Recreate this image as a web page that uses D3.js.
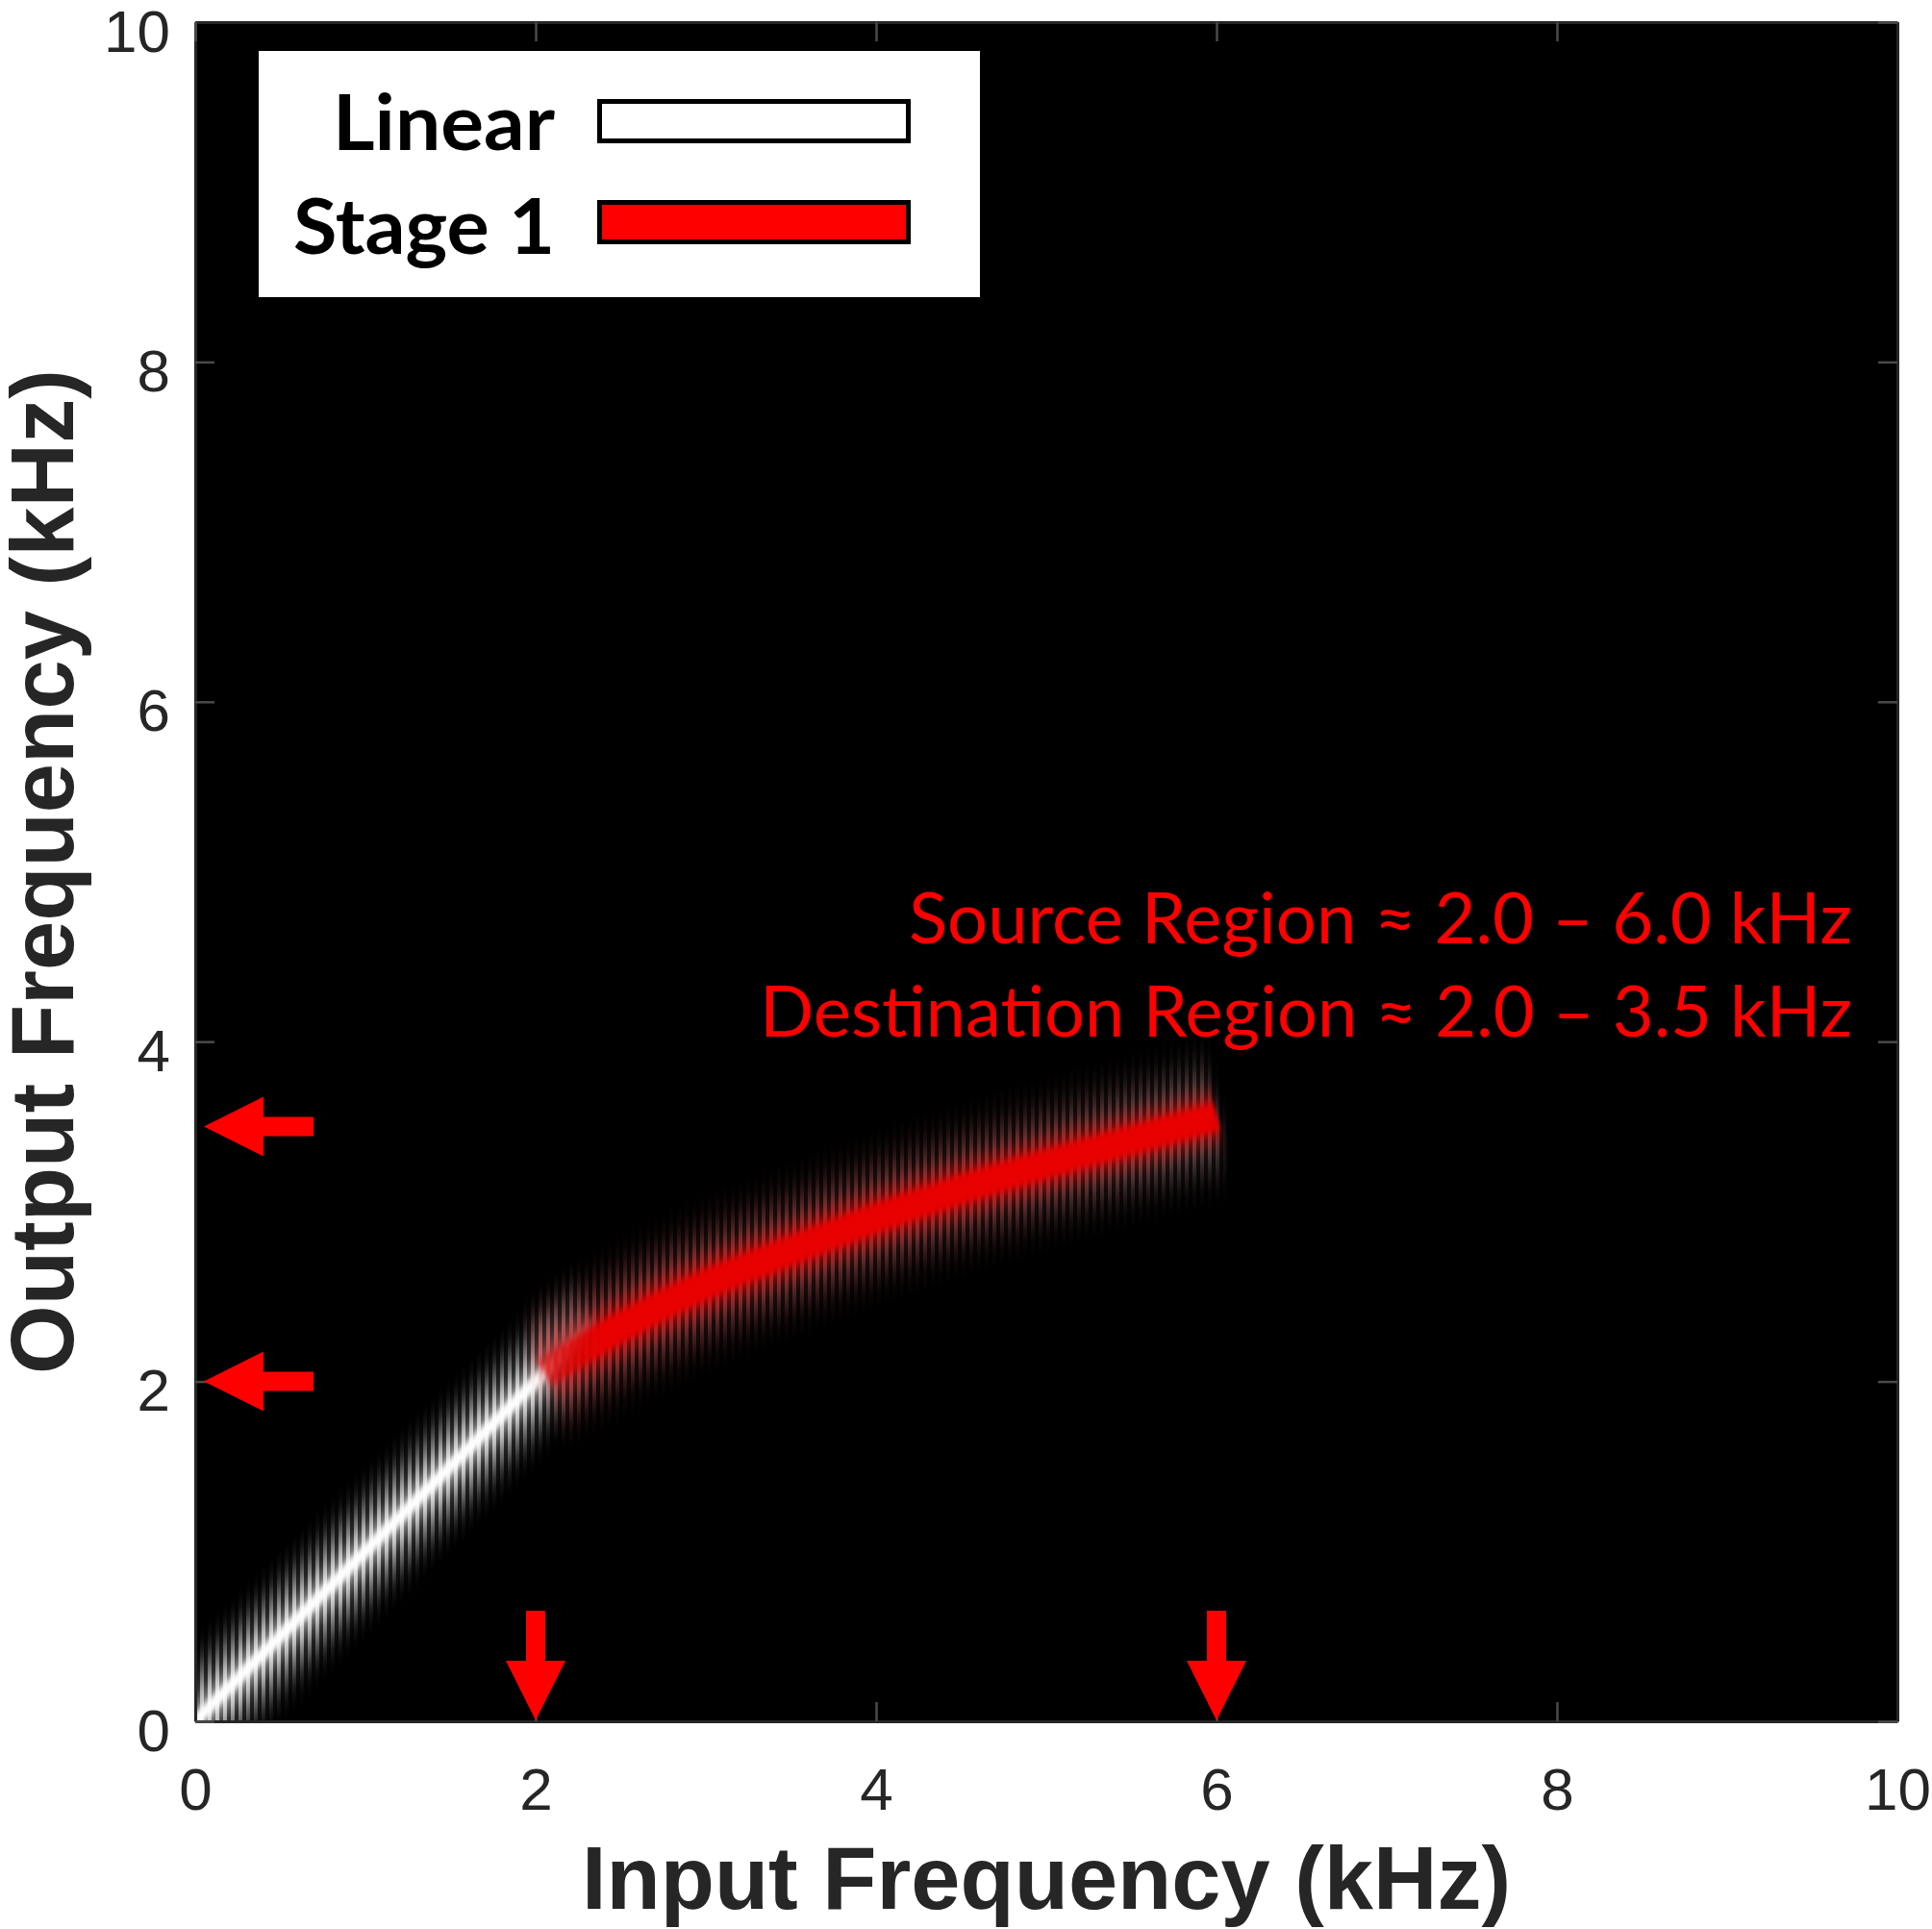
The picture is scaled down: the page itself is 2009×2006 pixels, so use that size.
<!DOCTYPE html>
<html>
<head>
<meta charset="utf-8">
<script src="https://cdn.jsdelivr.net/npm/d3@7"></script>
<style>
  body { margin: 0; background: #fff; }
  svg { display: block; }
</style>
</head>
<body>
<div id="chart"></div>
<script>
// values (kHz)
const xTicks = [0, 2, 4, 6, 8, 10];
const yTicks = [0, 2, 4, 6, 8, 10];
const linearInput = [0, 1, 2, 2.35];
const linearOutput = [0, 1, 2, 2.35];
const stage1Input = [2.05, 2.5, 3.0, 3.5, 4.0, 4.5, 5.0, 5.5, 6.0];
const stage1Output = [2.05, 2.32, 2.57, 2.77, 2.96, 3.13, 3.28, 3.42, 3.56];
const sourceMarks = [2, 6];
const destinationMarks = [2, 3.5];
const legendLabels = ["Linear", "Stage 1"];
const notes = ["Source Region \u2248 2.0 \u2013 6.0 kHz", "Destination Region \u2248 2.0 \u2013 3.5 kHz"];
const xTitle = "Input Frequency (kHz)";
const yTitle = "Output Frequency (kHz)";

const width = 2009, height = 2006;
const plot = { left: 203, top: 23, right: 1973, bottom: 1790 };
const axisColor = "#262626";
const red = "#ff0000";

const x = d3.scaleLinear().domain([0, 10]).range([plot.left, plot.right]);
const y = d3.scaleLinear().domain([0, 10]).range([plot.bottom, plot.top]);

const svg = d3.select("#chart").append("svg")
  .attr("width", width)
  .attr("height", height);

svg.append("rect").attr("width", width).attr("height", height).attr("fill", "#fff");

const defs = svg.append("defs");

defs.append("clipPath").attr("id", "plotClip")
  .append("rect")
  .attr("x", plot.left).attr("y", plot.top)
  .attr("width", plot.right - plot.left).attr("height", plot.bottom - plot.top);

// vertical streak look of the image columns
const stripes = defs.append("pattern").attr("id", "stripes")
  .attr("patternUnits", "userSpaceOnUse").attr("width", 8).attr("height", 8);
stripes.append("rect").attr("width", 4).attr("height", 8).attr("fill", "#fff");
stripes.append("rect").attr("x", 4).attr("width", 4).attr("height", 8).attr("fill", "#4a4a4a");

defs.append("mask").attr("id", "streaks")
  .attr("maskUnits", "userSpaceOnUse")
  .attr("x", 0).attr("y", 0).attr("width", width).attr("height", height)
  .append("rect").attr("width", width).attr("height", height).attr("fill", "url(#stripes)");

function blur(id, dev) {
  defs.append("filter").attr("id", id)
    .attr("filterUnits", "userSpaceOnUse")
    .attr("x", 0).attr("y", 0).attr("width", width).attr("height", height)
    .append("feGaussianBlur").attr("stdDeviation", dev);
}
blur("haloBlur", "3 22");
blur("redHaloBlur", "3 24");
blur("innerBlur", "2 9");
blur("coreBlur", "1.5 3.5");

// fade of the linear band where stage 1 takes over
const fade = defs.append("linearGradient").attr("id", "whiteFade")
  .attr("gradientUnits", "userSpaceOnUse")
  .attr("x1", x(2.0)).attr("x2", x(2.35)).attr("y1", 0).attr("y2", 0);
fade.append("stop").attr("offset", 0).attr("stop-color", "#fff").attr("stop-opacity", 1);
fade.append("stop").attr("offset", 1).attr("stop-color", "#fff").attr("stop-opacity", 0.15);

const redTone = defs.append("linearGradient").attr("id", "redTone")
  .attr("gradientUnits", "userSpaceOnUse")
  .attr("x1", x(2)).attr("x2", x(6.1)).attr("y1", 0).attr("y2", 0);
redTone.append("stop").attr("offset", 0).attr("stop-color", "#c45050");
redTone.append("stop").attr("offset", 0.7).attr("stop-color", "#ac5858");
redTone.append("stop").attr("offset", 1).attr("stop-color", "#907474");

const redStart = defs.append("linearGradient").attr("id", "redStart")
  .attr("gradientUnits", "userSpaceOnUse")
  .attr("x1", x(2.05)).attr("x2", x(2.4)).attr("y1", 0).attr("y2", 0);
redStart.append("stop").attr("offset", 0).attr("stop-color", "#e00000").attr("stop-opacity", 0.5);
redStart.append("stop").attr("offset", 1).attr("stop-color", "#e80000").attr("stop-opacity", 1);

// plot background
svg.append("rect")
  .attr("x", plot.left).attr("y", plot.top)
  .attr("width", plot.right - plot.left).attr("height", plot.bottom - plot.top)
  .attr("fill", "#000");

const linearData = linearInput.map((v, i) => [v, linearOutput[i]]);
const stageData = stage1Input.map((v, i) => [v, stage1Output[i]]);

const line = d3.line()
  .curve(d3.curveMonotoneX)
  .x(d => x(d[0]))
  .y(d => y(d[1]));

const bands = svg.append("g").attr("clip-path", "url(#plotClip)");

function band(data, layers) {
  layers.forEach(l => {
    bands.append("path")
      .datum(data)
      .attr("d", line)
      .attr("fill", "none")
      .attr("stroke", l.stroke)
      .attr("stroke-width", l.width)
      .attr("opacity", l.opacity)
      .attr("filter", `url(#${l.filter})`)
      .attr("mask", l.streak ? "url(#streaks)" : null);
  });
}

band(linearData, [
  { stroke: "url(#whiteFade)", width: 62, opacity: 0.8, filter: "haloBlur", streak: true },
  { stroke: "url(#whiteFade)", width: 28, opacity: 0.45, filter: "innerBlur", streak: false },
  { stroke: "url(#whiteFade)", width: 12, opacity: 1, filter: "coreBlur", streak: false }
]);

band(stageData, [
  { stroke: "url(#redTone)", width: 84, opacity: 0.85, filter: "redHaloBlur", streak: true },
  { stroke: "url(#redStart)", width: 50, opacity: 0.55, filter: "innerBlur", streak: false },
  { stroke: "url(#redStart)", width: 30, opacity: 1, filter: "coreBlur", streak: false }
]);

// axes, MATLAB style: ticks inside, box on
function styleAxis(g) {
  g.select(".domain").attr("stroke", axisColor).attr("stroke-width", 3);
  g.selectAll(".tick line").attr("stroke", "#4a4a4a").attr("stroke-width", 2.5);
  g.selectAll(".tick text")
    .attr("fill", axisColor)
    .attr("font-family", "'Liberation Sans', Arial, sans-serif")
    .attr("font-size", 62);
}

svg.append("g")
  .attr("transform", `translate(0,${plot.bottom})`)
  .call(d3.axisBottom(x).tickValues(xTicks).tickSizeInner(-20).tickSizeOuter(0))
  .call(styleAxis)
  .call(g => g.selectAll(".tick text").attr("y", 92).attr("dy", null));

svg.append("g")
  .attr("transform", `translate(${plot.left},0)`)
  .call(d3.axisLeft(y).tickValues(yTicks).tickSizeInner(-20).tickSizeOuter(0))
  .call(styleAxis)
  .call(g => g.selectAll(".tick text").attr("x", -26).attr("y", 30).attr("dy", null));

svg.append("g")
  .attr("transform", `translate(0,${plot.top})`)
  .call(d3.axisTop(x).tickValues(xTicks).tickSizeInner(-20).tickSizeOuter(0).tickFormat(""))
  .call(styleAxis);

svg.append("g")
  .attr("transform", `translate(${plot.right},0)`)
  .call(d3.axisRight(y).tickValues(yTicks).tickSizeInner(-20).tickSizeOuter(0).tickFormat(""))
  .call(styleAxis);

// axis titles
svg.append("text")
  .attr("x", (plot.left + plot.right) / 2)
  .attr("y", 1985)
  .attr("text-anchor", "middle")
  .attr("font-family", "'Liberation Sans', Arial, sans-serif")
  .attr("font-weight", "bold")
  .attr("font-size", 92)
  .attr("fill", axisColor)
  .text(xTitle);

svg.append("text")
  .attr("transform", `translate(76,${(plot.top + plot.bottom) / 2}) rotate(-90)`)
  .attr("text-anchor", "middle")
  .attr("font-family", "'Liberation Sans', Arial, sans-serif")
  .attr("font-weight", "bold")
  .attr("font-size", 92)
  .attr("fill", axisColor)
  .attr("textLength", 1045)
  .attr("lengthAdjust", "spacingAndGlyphs")
  .text(yTitle);

// red arrows marking the regions
const headLen = 62, headHalf = 31, shaftHalf = 10, arrowLen = 114;

svg.append("g").selectAll("path")
  .data(destinationMarks)
  .join("path")
  .attr("fill", red)
  .attr("d", v => {
    const tx = x(0) + 9, cy = y(v);
    return d3.line()([
      [tx, cy], [tx + headLen, cy - headHalf], [tx + headLen, cy - shaftHalf],
      [tx + arrowLen, cy - shaftHalf], [tx + arrowLen, cy + shaftHalf],
      [tx + headLen, cy + shaftHalf], [tx + headLen, cy + headHalf]
    ]) + "Z";
  });

svg.append("g").selectAll("path")
  .data(sourceMarks)
  .join("path")
  .attr("fill", red)
  .attr("d", v => {
    const cx = x(v), ty = y(0) - 1;
    return d3.line()([
      [cx, ty], [cx - headHalf, ty - headLen], [cx - shaftHalf, ty - headLen],
      [cx - shaftHalf, ty - arrowLen], [cx + shaftHalf, ty - arrowLen],
      [cx + shaftHalf, ty - headLen], [cx + headHalf, ty - headLen]
    ]) + "Z";
  });

// annotation text
const noteWidths = [981, 1136];
svg.append("g").selectAll("text")
  .data(notes)
  .join("text")
  .attr("x", 1926)
  .attr("y", (d, i) => 981 + i * 97)
  .attr("text-anchor", "end")
  .attr("font-family", "Lato, 'Open Sans', sans-serif")
  .attr("font-size", 74)
  .attr("fill", red)
  .attr("textLength", (d, i) => noteWidths[i])
  .attr("lengthAdjust", "spacingAndGlyphs")
  .text(d => d);

// legend
const legend = svg.append("g");
legend.append("rect")
  .attr("x", 269).attr("y", 53)
  .attr("width", 750).attr("height", 256)
  .attr("fill", "#fff");

const legendWidths = [231, 272];
const legendFill = ["#fff", red];
legendLabels.forEach((label, i) => {
  legend.append("text")
    .attr("x", 577)
    .attr("y", 156 + i * 108)
    .attr("text-anchor", "end")
    .attr("font-family", "Lato, 'Open Sans', sans-serif")
    .attr("font-weight", "bold")
    .attr("font-size", 80)
    .attr("fill", "#000")
    .attr("textLength", legendWidths[i])
    .attr("lengthAdjust", "spacingAndGlyphs")
    .text(label);
  legend.append("rect")
    .attr("x", 623.5).attr("y", 105.5 + i * 105)
    .attr("width", 321).attr("height", 41)
    .attr("fill", legendFill[i])
    .attr("stroke", "#000")
    .attr("stroke-width", 5);
});
</script>
</body>
</html>
